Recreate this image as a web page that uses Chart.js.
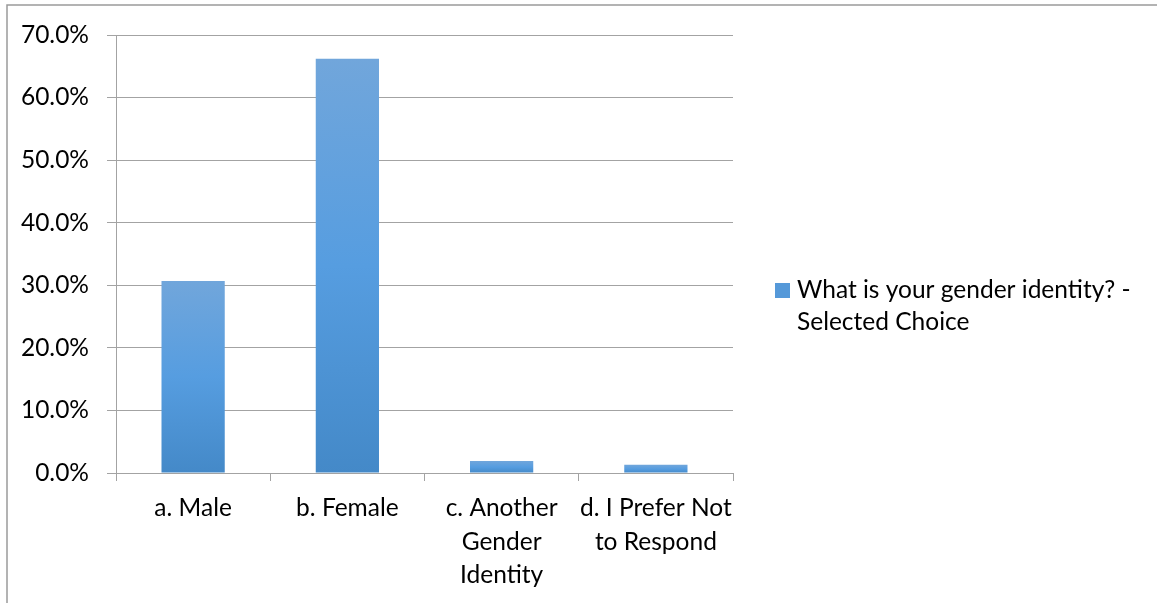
<!DOCTYPE html>
<html>
<head>
<meta charset="utf-8">
<script src="https://cdn.jsdelivr.net/npm/chart.js@4/dist/chart.umd.min.js"></script>
<style>
  html, body { margin: 0; padding: 0; background: #fff; overflow: hidden; }
  #wrap { position: relative; width: 1157px; height: 603px; }
</style>
</head>
<body>
<div id="wrap"><canvas id="genderChart" width="1157" height="603"></canvas></div>
<script>
const categories = [
  'a. Male',
  'b. Female',
  ['c. Another', 'Gender', 'Identity'],
  ['d. I Prefer Not', 'to Respond']
];
const shares = [30.7, 66.2, 1.9, 1.3];
const seriesLabel = ['What is your gender identity? -', 'Selected Choice'];
const yTicks = [0, 10, 20, 30, 40, 50, 60, 70];

const fontFamily = 'Lato, "Open Sans", sans-serif';
const fontSize = 24.5;
const gridColor = '#a3a3a3';

// per-bar vertical gradient, like the excel fill
const barFill = function (ctx) {
  const chart = ctx.chart;
  if (!chart.chartArea) return '#5599d9';
  const y = chart.scales.y;
  const top = y.getPixelForValue(ctx.raw);
  const base = y.getPixelForValue(0);
  if (!isFinite(top) || base - top < 1) return '#5599d9';
  const g = chart.ctx.createLinearGradient(0, top, 0, base);
  g.addColorStop(0, '#71a6db');
  g.addColorStop(0.5, '#569de0');
  g.addColorStop(1, '#4489c8');
  return g;
};

const frame = {
  id: 'frame',
  beforeDraw(chart) {
    const c = chart.ctx;
    c.save();
    c.strokeStyle = '#9a9a9a';
    c.lineWidth = 1.5;
    c.beginPath();
    c.moveTo(7, chart.height + 2);
    c.lineTo(7, 5);
    c.lineTo(chart.width + 2, 5);
    c.stroke();
    c.restore();
  }
};

const sideLegend = {
  id: 'sideLegend',
  afterDraw(chart) {
    const c = chart.ctx;
    const x = chart.chartArea.right + 42;
    const y = 290;
    c.save();
    c.fillStyle = '#5599d9';
    c.fillRect(x, y - 7, 15, 15);
    c.fillStyle = '#000';
    c.font = fontSize + 'px ' + fontFamily;
    c.textBaseline = 'middle';
    c.textAlign = 'left';
    for (let i = 0; i < seriesLabel.length; i++) {
      c.fillText(seriesLabel[i], x + 22, y + i * 32);
    }
    c.restore();
  }
};

new Chart(document.getElementById('genderChart'), {
  type: 'bar',
  data: {
    labels: categories,
    datasets: [{
      label: seriesLabel.join(' '),
      data: shares,
      backgroundColor: barFill,
      borderWidth: 0,
      categoryPercentage: 0.41,
      barPercentage: 1
    }]
  },
  options: {
    responsive: false,
    animation: false,
    events: [],
    layout: { padding: { left: 0, top: 35, right: 424, bottom: 0 } },
    plugins: {
      legend: { display: false },
      tooltip: { enabled: false }
    },
    scales: {
      x: {
        grid: {
          offset: true,
          drawOnChartArea: false,
          drawTicks: true,
          tickLength: 8,
          color: gridColor,
          lineWidth: 1
        },
        border: { display: false },
        ticks: {
          color: '#000',
          padding: 11,
          maxRotation: 0,
          autoSkip: false,
          font: { family: fontFamily, size: fontSize, lineHeight: 1.35 }
        },
        afterFit(scale) { scale.height = 130; }
      },
      y: {
        min: 0,
        max: 70,
        afterBuildTicks(scale) {
          scale.ticks = yTicks.map(v => ({ value: v }));
        },
        grid: {
          color: gridColor,
          lineWidth: 1,
          tickLength: 9
        },
        border: { display: true, color: gridColor, width: 1 },
        ticks: {
          color: '#000',
          padding: 18,
          font: { family: fontFamily, size: fontSize },
          callback: v => v.toFixed(1) + '%'
        },
        afterFit(scale) { scale.width = 116; }
      }
    }
  },
  plugins: [frame, sideLegend]
});
</script>
</body>
</html>
